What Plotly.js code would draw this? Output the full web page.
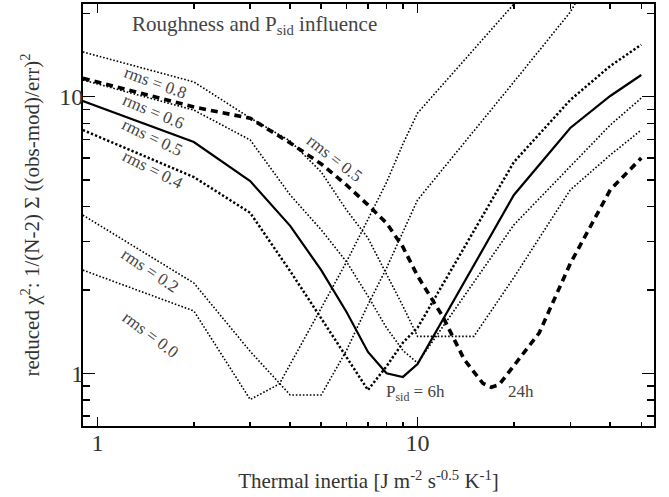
<!DOCTYPE html>
<html>
<head>
<meta charset="utf-8">
<script src="https://cdn.plot.ly/plotly-3.0.1.min.js"></script>
<style>
html,body{margin:0;padding:0;background:#fff;}
#chart{width:669px;height:497px;}
</style>
</head>
<body>
<div id="chart"></div>
<script>
// ---- data ----
const xP6 = [0.9, 2, 3, 4, 5, 6, 7, 8, 9, 10, 20, 30, 40, 50];
const yRms05_6h = [9.64, 6.85, 4.95, 3.41, 2.36, 1.665, 1.194, 1.0, 0.97, 1.08, 4.41, 7.70, 10.05, 11.97];

const xRms08 = [0.9, 2, 3, 4, 5, 6, 7, 8, 9, 10, 15, 20, 30, 40, 50];
const yRms08 = [14.5, 11.3, 8.37, 6.91, 5.34, 3.89, 3.08, 2.29, 1.75, 1.36, 1.36, 2.22, 4.60, 6.15, 7.57];

const yRms06 = [11.48, 8.94, 6.97, 4.41, 3.30, 2.53, 1.90, 1.46, 1.21, 1.09, 3.44, 5.57, 7.89, 9.88];
const yRms04 = [7.57, 5.12, 3.80, 2.34, 1.58, 1.145, 0.87, 1.06, 1.29, 1.46, 5.80, 9.72, 12.9, 15.4];

const xRms02 = [0.9, 2, 3, 4, 5, 6, 7, 8, 9, 10, 20, 30, 32];
const yRms02 = [3.73, 2.12, 1.20, 0.835, 0.835, 1.21, 1.77, 2.40, 3.24, 4.23, 11.3, 20.2, 23];

const xRms00 = [0.9, 2, 3, 3.7, 5, 6, 7, 8, 9, 10, 20];
const yRms00 = [2.36, 1.68, 0.804, 0.915, 1.72, 2.53, 3.6, 4.9, 6.74, 8.72, 21.6];

const xRms05_24h = [0.9, 2, 3, 4, 5, 6, 7, 8, 9, 10, 12, 14, 16, 17, 18, 20, 24, 30, 40, 50];
const yRms05_24h = [11.65, 9.17, 8.35, 6.8, 5.71, 4.79, 4.06, 3.49, 2.86, 2.25, 1.60, 1.12, 0.92, 0.89, 0.91, 1.07, 1.40, 2.49, 4.6, 6.0];

const xMajorTicks = [1, 10];
const xMajorLabels = ['1', '10'];
const xMinorTicks = [2, 3, 4, 5, 6, 7, 8, 9, 20, 30, 40, 50];
const yMajorTicks = [1, 10];
const yMajorLabels = ['1', '10'];
const yMinorTicks = [0.7, 0.8, 0.9, 2, 3, 4, 5, 6, 7, 8, 9, 20];

// ---- layout helpers (pixel -> paper) ----
const L = 83, R = 654, T = 4, B = 426;
const px = v => (v - L) / (R - L);
const py = v => (B - v) / (B - T);

const FONT = 'Liberation Serif, Times New Roman, serif';
const thinDot = {color: '#000', width: 1.6, dash: '1.6px,1.9px'};
const boldDot = {color: '#000', width: 2.5, dash: '2.3px,2.1px'};

const traces = [
  {x: xRms08, y: yRms08, mode: 'lines', line: thinDot},
  {x: xP6, y: yRms06, mode: 'lines', line: thinDot},
  {x: xP6, y: yRms04, mode: 'lines', line: boldDot},
  {x: xRms02, y: yRms02, mode: 'lines', line: thinDot},
  {x: xRms00, y: yRms00, mode: 'lines', line: thinDot},
  {x: xP6, y: yRms05_6h, mode: 'lines', line: {color: '#000', width: 2.2}},
  {x: xRms05_24h, y: yRms05_24h, mode: 'lines', line: {color: '#000', width: 3.6, dash: '7px,5px'}}
];

function lab(text, cx, cy, ang, size) {
  return {text: text, xref: 'paper', yref: 'paper', x: px(cx), y: py(cy),
    xanchor: 'center', yanchor: 'middle', showarrow: false, textangle: ang,
    font: {family: FONT, size: size || 17, color: '#444'}};
}
function labL(text, lx, cy, size) {
  return {text: text, xref: 'paper', yref: 'paper', x: px(lx), y: py(cy),
    xanchor: 'left', yanchor: 'middle', showarrow: false,
    font: {family: FONT, size: size || 17, color: '#444'}};
}

const annotations = [
  lab('rms = 0.8', 155, 82.5, 20),
  lab('rms = 0.6', 153, 111.5, 23),
  lab('rms = 0.5', 152.5, 137, 26),
  lab('rms = 0.4', 152.5, 170, 27),
  lab('rms = 0.2', 150, 270, 34),
  lab('rms = 0.0', 150, 334.5, 37),
  lab('rms = 0.5', 334.5, 158.5, 38),
  labL('Roughness and P<sub>sid</sub> influence', 130, 25, 21),
  labL('P<sub>sid</sub> = 6h', 384, 393, 17),
  labL('24h', 506, 391, 17)
];

const axisCommon = {
  type: 'log', showgrid: false, zeroline: false,
  showline: true, linecolor: '#000', linewidth: 2, mirror: 'ticks',
  ticks: 'inside', tickwidth: 1.5, tickcolor: '#000',
  tickmode: 'array',
  tickfont: {family: FONT, size: 24, color: '#333'}
};

const layout = {
  width: 669, height: 497,
  margin: {l: L, r: 669 - R, t: T, b: 497 - B},
  paper_bgcolor: '#fff', plot_bgcolor: '#fff',
  showlegend: false,
  font: {family: FONT, color: '#333'},
  xaxis: Object.assign({}, axisCommon, {
    range: [Math.log10(0.901), Math.log10(54.8)],
    tickvals: xMajorTicks, ticktext: xMajorLabels, ticklen: 9,
    ticklabelstandoff: -6,
    minor: {tickmode: 'array', tickvals: xMinorTicks, ticks: 'inside', ticklen: 4.5, tickwidth: 1.5, tickcolor: '#000', showgrid: false},
    title: {text: 'Thermal inertia [J m<sup>-2</sup> s<sup>-0.5</sup> K<sup>-1</sup>]',
      font: {family: FONT, size: 21, color: '#333'}, standoff: 19}
  }),
  yaxis: Object.assign({}, axisCommon, {
    range: [-0.1905, 1.3347],
    tickvals: yMajorTicks, ticktext: yMajorLabels, ticklen: 12,
    ticklabelstandoff: -7,
    minor: {tickmode: 'array', tickvals: yMinorTicks, ticks: 'inside', ticklen: 7, tickwidth: 1.5, tickcolor: '#000', showgrid: false},
    title: {text: 'reduced χ<sup>2</sup>: 1/(N-2) Σ ((obs-mod)/err)<sup>2</sup>',
      font: {family: FONT, size: 21, color: '#333'}, standoff: 14}
  }),
  annotations: annotations
};

Plotly.newPlot('chart', traces, layout, {displayModeBar: false, staticPlot: true});
</script>
</body>
</html>
